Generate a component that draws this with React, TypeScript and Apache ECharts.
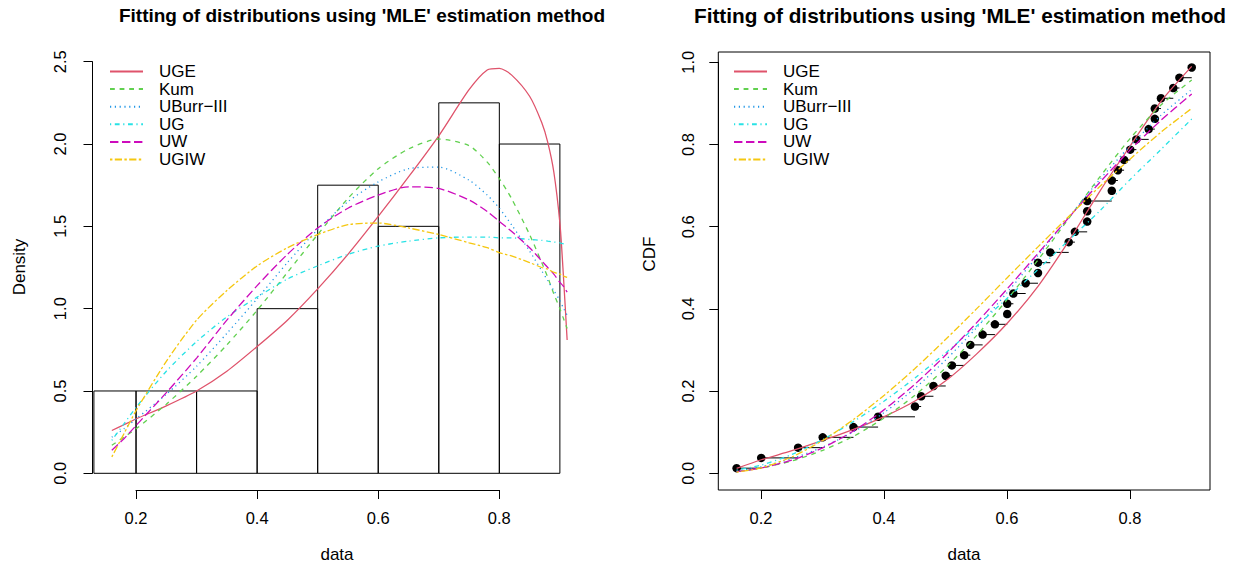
import React, { useEffect, useRef } from "react";
import * as echarts from "echarts";

// ---------------- data ----------------
const histBreaks = [0.1, 0.2, 0.3, 0.4, 0.5, 0.6, 0.7, 0.8, 0.9];
const histDensity = [0.5, 0.5, 0.5, 1.0, 1.75, 1.5, 2.25, 2.0];

const sampleData = [
  0.16, 0.2, 0.26, 0.3, 0.35, 0.39, 0.45, 0.46, 0.48, 0.5,
  0.51, 0.53, 0.54, 0.56, 0.58, 0.6, 0.6, 0.61, 0.63, 0.65,
  0.65, 0.67, 0.7, 0.71, 0.73, 0.73, 0.73, 0.77, 0.77, 0.78,
  0.79, 0.8, 0.81, 0.83, 0.84, 0.84, 0.85, 0.87, 0.88, 0.9,
];

const modelNames = ["UGE", "Kum", "UBurr\u2212III", "UG", "UW", "UGIW"];
const modelColors = ["#DF536B", "#61D04F", "#2297E6", "#28E2E5", "#CD0BBC", "#F5C710"];
const modelDash: (string | number[])[] = [
  "solid",
  [4.8, 4.8],
  [1.2, 3.6],
  [1.2, 3.6, 4.8, 3.6],
  [8.4, 3.6],
  [2.4, 2.4, 7.2, 2.4],
];

// density curves (left panel)
const densX = [0.16, 0.18, 0.2, 0.25, 0.3, 0.35, 0.4, 0.45, 0.5, 0.55, 0.6, 0.65, 0.7, 0.75, 0.78, 0.8, 0.82, 0.85, 0.87, 0.88, 0.89, 0.9, 0.905, 0.912];
const densUGE = [0.26, 0.295, 0.33, 0.41, 0.5, 0.62, 0.77, 0.93, 1.12, 1.33, 1.56, 1.8, 2.05, 2.33, 2.45, 2.46, 2.42, 2.29, 2.13, 2.01, 1.83, 1.52, 1.25, 0.81];
const densKum = [0.17, 0.22, 0.27, 0.42, 0.59, 0.78, 0.99, 1.22, 1.45, 1.67, 1.85, 1.97, 2.03, 1.99, 1.89, 1.79, 1.67, 1.45, 1.28, 1.19, 1.09, 1.0, 0.95, 0.88];
const densUBurr = [0.22, 0.27, 0.33, 0.48, 0.65, 0.85, 1.06, 1.28, 1.48, 1.65, 1.77, 1.85, 1.86, 1.78, 1.69, 1.61, 1.51, 1.35, 1.23, 1.17, 1.11, 1.05, 1.01, 0.96];
const densUG = [0.2, 0.3, 0.4, 0.62, 0.8, 0.95, 1.07, 1.18, 1.26, 1.33, 1.38, 1.41, 1.43, 1.435, 1.435, 1.43, 1.43, 1.42, 1.415, 1.41, 1.405, 1.4, 1.395, 1.39];
const densUW = [0.14, 0.21, 0.29, 0.49, 0.7, 0.93, 1.14, 1.33, 1.49, 1.61, 1.69, 1.74, 1.73, 1.66, 1.59, 1.53, 1.47, 1.37, 1.29, 1.25, 1.21, 1.16, 1.14, 1.1];
const densUGIW = [0.1, 0.24, 0.38, 0.68, 0.93, 1.11, 1.26, 1.37, 1.45, 1.51, 1.52, 1.49, 1.45, 1.4, 1.37, 1.34, 1.32, 1.28, 1.25, 1.24, 1.22, 1.21, 1.2, 1.19];

// CDF curves (right panel)
const cdfX = [0.16, 0.2, 0.25, 0.3, 0.35, 0.4, 0.45, 0.5, 0.55, 0.6, 0.65, 0.7, 0.75, 0.8, 0.85, 0.9];
const cdfUGE = [0.012, 0.033, 0.055, 0.08, 0.107, 0.138, 0.176, 0.225, 0.29, 0.365, 0.455, 0.565, 0.685, 0.797, 0.905, 0.99];
const cdfKum = [0.004, 0.013, 0.03, 0.056, 0.09, 0.135, 0.19, 0.257, 0.335, 0.423, 0.519, 0.62, 0.72, 0.815, 0.896, 0.957];
const cdfUBurr = [0.005, 0.016, 0.036, 0.064, 0.101, 0.148, 0.207, 0.276, 0.354, 0.44, 0.53, 0.623, 0.714, 0.797, 0.871, 0.934];
const cdfUG = [0.008, 0.02, 0.046, 0.082, 0.126, 0.176, 0.232, 0.293, 0.358, 0.426, 0.496, 0.567, 0.638, 0.715, 0.788, 0.862];
const cdfUW = [0.004, 0.013, 0.032, 0.062, 0.103, 0.155, 0.217, 0.288, 0.366, 0.449, 0.535, 0.622, 0.707, 0.787, 0.859, 0.923];
const cdfUGIW = [0.003, 0.013, 0.04, 0.08, 0.131, 0.19, 0.255, 0.326, 0.4, 0.476, 0.551, 0.625, 0.697, 0.765, 0.83, 0.888];

const densityValues = [densUGE, densKum, densUBurr, densUG, densUW, densUGIW];
const cdfValues = [cdfUGE, cdfKum, cdfUBurr, cdfUG, cdfUW, cdfUGIW];

const titleText = "Fitting of distributions using 'MLE' estimation method";

const FONT = "'Liberation Sans', Arial, Helvetica, sans-serif";

function buildOption(): any {
  const n = sampleData.length;
  const ecdfPoints = sampleData.map((x, i) => [x, (i + 0.5) / n]);
  const steps: number[][] = [];
  for (let i = 0; i < n - 1; i++) {
    if (sampleData[i + 1] !== sampleData[i]) {
      steps.push([sampleData[i], (i + 0.5) / n, sampleData[i + 1]]);
    }
  }

  const black = "#000";
  const tickLabel = { color: black, fontSize: 16.5, fontFamily: FONT, formatter: (v: number) => v.toFixed(1), showMinLabel: true, showMaxLabel: true };
  const hiddenAxis = (gridIndex: number, min: number, max: number) => ({
    type: "value", gridIndex, min, max, show: false, splitLine: { show: false },
  });
  const xAxisVisible = (gridIndex: number) => ({
    type: "value", gridIndex, min: 0.2, max: 0.8, interval: 0.2, position: "bottom",
    axisLine: { show: true, onZero: false, lineStyle: { color: black, width: 1 } },
    axisTick: { show: true, inside: false, length: 9, lineStyle: { color: black, width: 1 } },
    axisLabel: { ...tickLabel, margin: 19 },
    splitLine: { show: false },
  });
  const yAxisVisible = (gridIndex: number, max: number, interval: number, margin: number) => ({
    type: "value", gridIndex, min: 0, max, interval, position: "left",
    axisLine: { show: true, onZero: false, lineStyle: { color: black, width: 1 } },
    axisTick: { show: true, inside: false, length: 9, lineStyle: { color: black, width: 1 } },
    axisLabel: { ...tickLabel, rotate: 90, margin },
    splitLine: { show: false },
  });

  const gridBase = { containLabel: false, outerBoundsMode: "none" };

  const series: any[] = [];
  series.push({
    type: "custom",
    name: "hist",
    xAxisIndex: 0,
    yAxisIndex: 0,
    clip: false,
    silent: true,
    encode: { x: [0, 1], y: 2 },
    data: histDensity.map((d, i) => [histBreaks[i], histBreaks[i + 1], d]),
    renderItem: (params: any, api: any) => {
      const p0 = api.coord([api.value(0), api.value(2)]);
      const p1 = api.coord([api.value(1), 0]);
      const cs = params.coordSys;
      const x0 = Math.max(p0[0], cs.x);
      return {
        type: "rect",
        shape: { x: x0, y: p0[1], width: p1[0] - x0, height: p1[1] - p0[1] },
        style: { fill: "none", stroke: black, lineWidth: 1 },
      };
    },
  });
  modelNames.forEach((name, k) => {
    series.push({
      type: "line",
      name,
      xAxisIndex: 0,
      yAxisIndex: 0,
      data: densX.map((x, i) => [x, densityValues[k][i]]),
      symbol: "none",
      showSymbol: false,
      smooth: 0.25,
      lineStyle: { color: modelColors[k], width: 1.3, type: modelDash[k] },
      itemStyle: { color: modelColors[k] },
      z: 3 + k,
    });
  });
  series.push({
    type: "custom",
    name: "steps",
    xAxisIndex: 3,
    yAxisIndex: 3,
    silent: true,
    encode: { x: [0, 2], y: 1 },
    data: steps,
    renderItem: (params: any, api: any) => {
      const a = api.coord([api.value(0), api.value(1)]);
      const b = api.coord([api.value(2), api.value(1)]);
      return {
        type: "line",
        shape: { x1: a[0], y1: a[1], x2: b[0], y2: b[1] },
        style: { stroke: black, lineWidth: 1 },
      };
    },
  });
  series.push({
    type: "scatter",
    name: "ecdf",
    xAxisIndex: 3,
    yAxisIndex: 3,
    symbol: "circle",
    symbolSize: 8.5,
    itemStyle: { color: black, opacity: 1 },
    silent: true,
    data: ecdfPoints,
  });
  modelNames.forEach((name, k) => {
    series.push({
      type: "line",
      name,
      xAxisIndex: 3,
      yAxisIndex: 3,
      data: cdfX.map((x, i) => [x, cdfValues[k][i]]),
      symbol: "none",
      showSymbol: false,
      smooth: 0.25,
      lineStyle: { color: modelColors[k], width: 1.3, type: modelDash[k] },
      itemStyle: { color: modelColors[k] },
      z: 3 + k,
    });
  });

  const legendBase = {
    orient: "vertical",
    data: modelNames,
    itemWidth: 33,
    itemHeight: 14,
    itemGap: 0.6,
    selectedMode: false,
    padding: 0,
    itemStyle: { opacity: 0 },
    lineStyle: { opacity: 1 },
    textStyle: { color: black, fontSize: 17, fontFamily: FONT, lineHeight: 14, padding: [0, 0, 0, 11] },
  };

  return {
    animation: false,
    backgroundColor: "#fff",
    grid: [
      { ...gridBase, left: 93.9, top: 45, width: 483.9, height: 445 },
      { ...gridBase, left: 136, top: 45, width: 363.3, height: 445 },
      { ...gridBase, left: 92.5, top: 61.7, width: 20, height: 411.6 },
      { ...gridBase, left: 718.3, top: 52, width: 491.7, height: 438, show: true, borderColor: black, borderWidth: 1, backgroundColor: "transparent" },
      { ...gridBase, left: 761, top: 52, width: 369, height: 438 },
      { ...gridBase, left: 718.3, top: 62.3, width: 20, height: 411 },
    ],
    xAxis: [
      hiddenAxis(0, 0.1304, 0.9296),
      xAxisVisible(1),
      hiddenAxis(2, 0, 1),
      hiddenAxis(3, 0.1302, 0.9297),
      xAxisVisible(4),
      hiddenAxis(5, 0, 1),
    ],
    yAxis: [
      hiddenAxis(0, -0.1014, 2.6014),
      hiddenAxis(1, 0, 1),
      yAxisVisible(2, 2.5, 0.5, 24),
      hiddenAxis(3, -0.0406, 1.0251),
      hiddenAxis(4, 0, 1),
      yAxisVisible(5, 1.0, 0.2, 22),
    ],
    legend: [
      { ...legendBase, left: 109, top: 63 },
      { ...legendBase, left: 733, top: 63 },
    ],
    graphic: [
      { type: "text", x: 362, y: 15, style: { text: titleText, font: `bold 19px ${FONT}`, fill: black, textAlign: "center", textVerticalAlign: "middle" } },
      { type: "text", x: 960, y: 15, style: { text: titleText, font: `bold 20.8px ${FONT}`, fill: black, textAlign: "center", textVerticalAlign: "middle" } },
      { type: "text", x: 337, y: 554, style: { text: "data", font: `17px ${FONT}`, fill: black, textAlign: "center", textVerticalAlign: "middle" } },
      { type: "text", x: 964, y: 554, style: { text: "data", font: `17px ${FONT}`, fill: black, textAlign: "center", textVerticalAlign: "middle" } },
      { type: "text", x: 19, y: 267, rotation: Math.PI / 2, style: { text: "Density", font: `17px ${FONT}`, fill: black, textAlign: "center", textVerticalAlign: "middle" } },
      { type: "text", x: 649, y: 254, rotation: Math.PI / 2, style: { text: "CDF", font: `17px ${FONT}`, fill: black, textAlign: "center", textVerticalAlign: "middle" } },
    ],
    series,
  };
}

export default function App() {
  const ref = useRef<HTMLDivElement>(null);
  useEffect(() => {
    if (!ref.current) return;
    const chart = echarts.init(ref.current, undefined, { renderer: "svg" });
    chart.setOption(buildOption());
    return () => chart.dispose();
  }, []);
  return (
    <div
      ref={ref}
      style={{ position: "absolute", left: 0, top: 0, width: 1233, height: 564, background: "#fff" }}
    />
  );
}
